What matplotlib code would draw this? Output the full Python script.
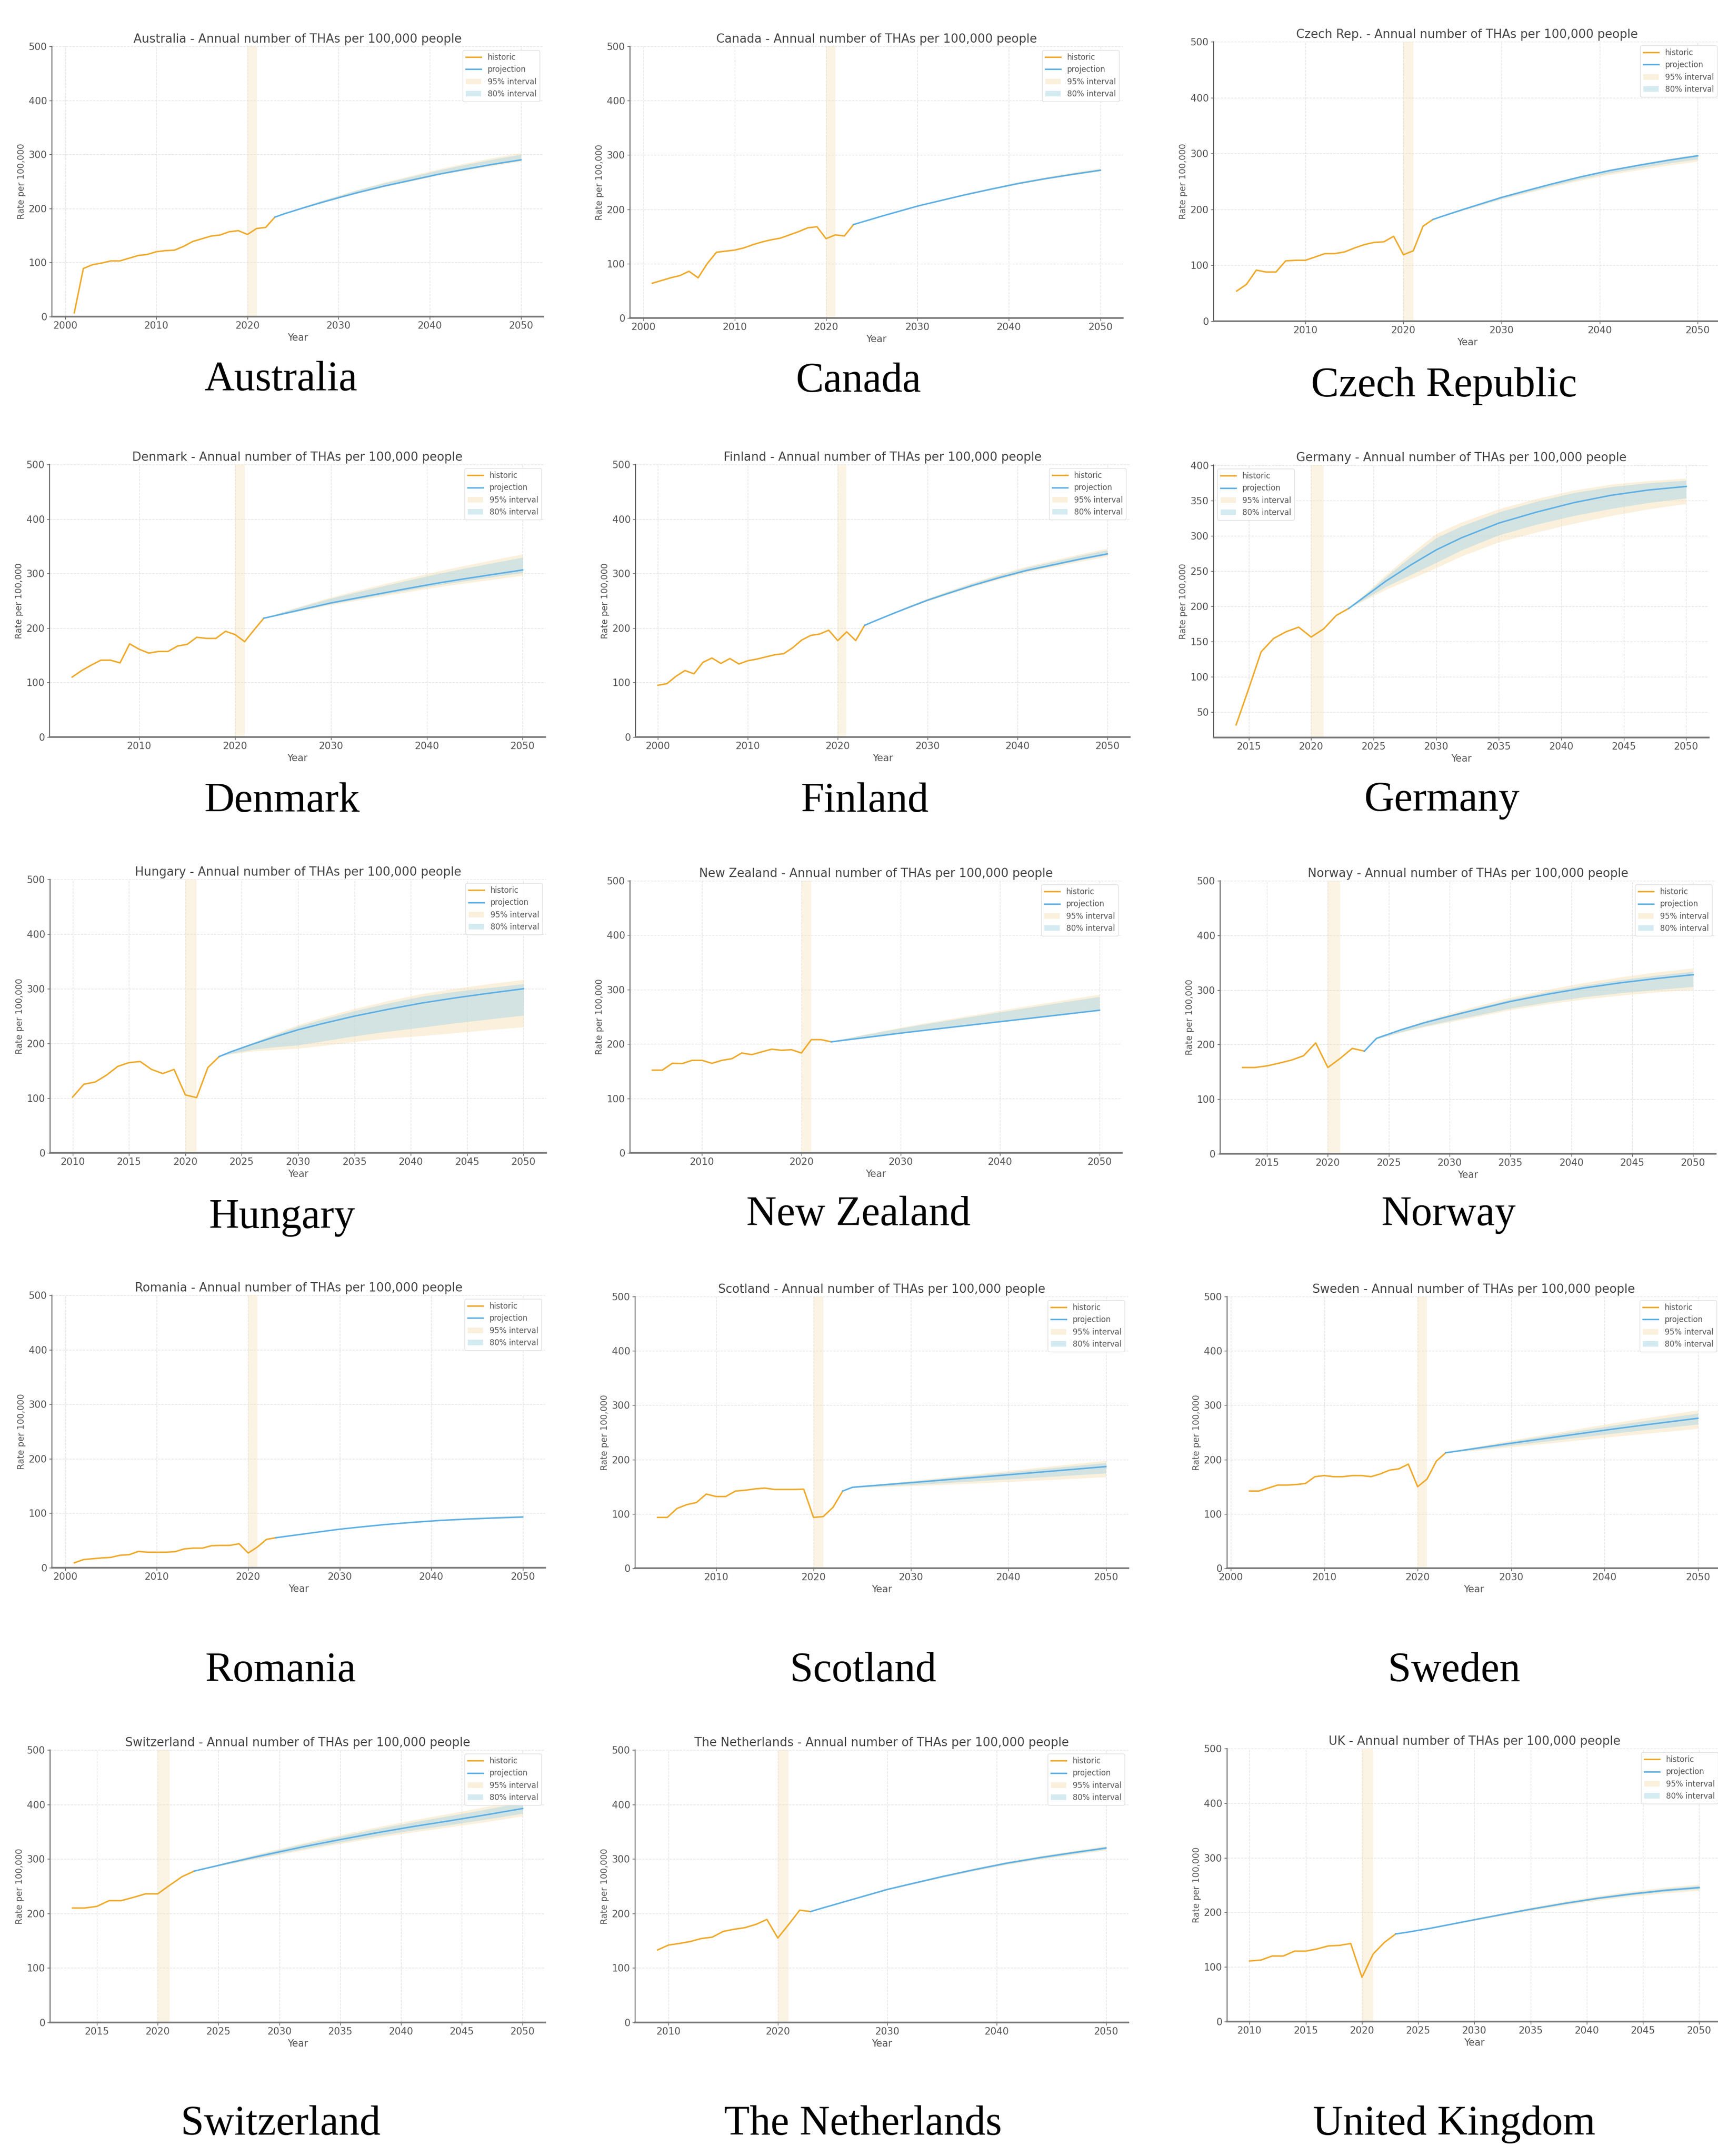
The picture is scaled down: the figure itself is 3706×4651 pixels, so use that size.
import matplotlib
matplotlib.use("Agg")
import matplotlib.pyplot as plt
from matplotlib.ticker import MultipleLocator

W, H = 3706, 4651

countries = ["Australia", "Canada", "Czech Republic", "Denmark", "Finland", "Germany",
             "Hungary", "New Zealand", "Norway", "Romania", "Scotland", "Sweden",
             "Switzerland", "The Netherlands", "United Kingdom"]
title_names = ["Australia", "Canada", "Czech Rep.", "Denmark", "Finland", "Germany",
               "Hungary", "New Zealand", "Norway", "Romania", "Scotland", "Sweden",
               "Switzerland", "The Netherlands", "UK"]

# first year of the historic series
hist_start = [2001, 2001, 2003, 2003, 2000, 2014, 2010, 2005, 2013, 2001, 2004, 2002, 2013, 2009, 2010]

hist_rates = [
    [7, 89, 96, 99, 103, 103, 108, 113, 115, 120, 122, 123, 130, 139, 144, 149, 151, 157, 159, 152, 163, 165, 184],
    [64, 69, 74, 78, 86, 74, 100, 121, 123, 125, 129, 135, 140, 144, 147, 153, 159, 166, 168, 146, 153, 151, 172],
    [54, 66, 91.5, 88, 88, 108, 109, 109, 115, 121, 121, 124, 131, 137, 141, 142, 152, 119, 126, 170, 182],
    [110, 122, 132, 141, 141, 136, 171, 161, 154, 157, 157, 167, 170, 183, 181, 181, 194, 188, 175, 197, 218],
    [95, 98, 111.5, 122, 116, 137, 145, 135, 144, 134, 140, 143, 147, 151, 153, 164, 178, 186.5, 189, 196, 177, 193, 177, 205],
    [32, 83, 135.5, 154.5, 164, 170.5, 156.5, 168, 187, 197],
    [102, 125.5, 129.5, 142, 158, 165, 167, 152.5, 145, 152.5, 106, 101, 156, 176],
    [152, 152, 164.5, 164, 170, 170, 164.5, 170, 173, 183.5, 180.5, 185.5, 190.5, 188.5, 189.5, 183.5, 208, 208, 204],
    [158, 158, 161, 166, 171.5, 179.5, 203, 158, 174.5, 193, 188],
    [9, 15, 16.5, 18, 19, 23, 24, 30, 28.5, 28.5, 28.5, 29.5, 34.5, 36, 36, 40.5, 41, 41, 44, 27, 38, 52, 55],
    [93.5, 93.5, 110, 117, 121, 136.5, 132, 132, 142, 143.5, 146, 147.5, 145, 145, 145, 145.5, 93.5, 95, 112, 142],
    [142, 142, 147.5, 153, 153, 154, 156, 168.5, 170.5, 168.5, 168.5, 170.5, 170.5, 168.5, 173.5, 180.5, 183, 191.5, 150, 164, 197, 212.5],
    [210, 210, 213, 223.5, 223.5, 229.5, 236, 236, 252, 267.5, 277.7],
    [133, 142, 145, 148.5, 154, 156.5, 167, 171, 174, 180, 189, 155, 180, 206, 203.5],
    [111, 112.5, 120, 120, 129, 129, 133, 138.5, 139.5, 143, 81, 124, 145, 160.5],
]

proj_years = [2023, 2024, 2026, 2028, 2030, 2032, 2035, 2038, 2041, 2044, 2047, 2050]

proj_mean = [
    [184, 190, 200.5, 210.5, 220, 229, 241.5, 252.5, 263.5, 273, 282, 290],
    [172, 177, 187, 196.5, 206, 214, 226, 237, 247.5, 256.5, 264.5, 272],
    [182, 188, 199.5, 210.5, 221.5, 231, 245, 258, 269.5, 279, 288, 296],
    [218, 222, 230, 238, 246, 252.7, 262.7, 272.5, 282, 290.5, 298.5, 306.5],
    [205, 212, 225.5, 238.5, 251, 262, 278, 292.5, 305.5, 316, 326.5, 336],
    [197, 210, 236, 259, 280, 297, 318, 333.5, 347, 357.5, 365, 370],
    [176, 184.5, 199, 212.5, 225, 235.5, 250, 262.5, 274, 283.5, 292, 300],
    [204, 206.3, 210.8, 215.4, 220, 224.3, 230.6, 236.9, 243.1, 249.4, 255.7, 262],
    [188, 211.5, 227, 240.5, 252, 263, 279, 292, 303.5, 313, 321, 328],
    [55, 57.3, 61.8, 66.3, 70.7, 74.3, 79.3, 83.3, 86.8, 89.3, 91.3, 93],
    [142, 149, 151.9, 154.7, 157.5, 160.4, 164.8, 169.1, 173.5, 178, 182.5, 187],
    [212.5, 215, 220, 225, 230, 234.8, 242, 249.2, 256.3, 263, 269.5, 276],
    [277.7, 283, 293.5, 303.5, 313, 322.5, 335.5, 348, 359.5, 370, 381, 392.5],
    [203.5, 209.5, 221, 232.5, 244, 253.5, 267.5, 280.5, 292.5, 302.5, 311.5, 320],
    [160.5, 163.5, 170.5, 178.5, 186.5, 194.3, 205.7, 216.3, 225.8, 233.7, 240.3, 245.3],
]

proj_hi95 = [
    [184, 191, 203, 214, 224.5, 234.5, 248.5, 261, 273, 284, 294, 303],
    [172, 177.3, 187.8, 197.6, 207.4, 215.8, 228.2, 239.6, 250.5, 259.8, 268.2, 276],
    [182, 188.2, 200.1, 211.3, 222.6, 232.3, 246.6, 259.9, 271.7, 281.5, 290.8, 299],
    [218, 224.3, 235.5, 246.1, 256.4, 265.5, 278.4, 291.1, 303.5, 314.6, 325.2, 335.5],
    [205, 212.8, 227.4, 241.3, 254.6, 266.4, 283.4, 298.9, 312.9, 324.3, 335.7, 346],
    [197, 213, 245, 275, 303, 319, 338, 352.5, 364.5, 373, 378, 381.5],
    [176, 185.5, 202, 218.5, 234, 246.5, 263.5, 278, 291, 300.5, 309, 316.5],
    [204, 208.6, 216.3, 223.5, 230.4, 237.1, 246.3, 255.5, 264.6, 273.5, 282.4, 291],
    [188, 212, 229, 244, 257, 269, 286.5, 300.5, 313, 323.5, 332.5, 340],
    [55, 57.5, 62.4, 67.1, 71.8, 75.6, 80.9, 85.2, 89, 91.8, 94.1, 96],
    [142, 149.5, 153.6, 157.3, 161, 164.8, 170.4, 175.8, 181.3, 186.9, 192.5, 198],
    [212.5, 216.2, 222.9, 229.2, 235.4, 241.4, 250.1, 258.8, 267.4, 275.5, 283.3, 291],
    [277.7, 284.3, 296.5, 308, 318.8, 329.5, 344.1, 358.2, 371.3, 383.3, 395.7, 408.5],
    [203.5, 209.8, 221.8, 233.6, 245.4, 255.3, 269.7, 283.1, 295.5, 305.8, 315.2, 324],
    [160.5, 164, 171.6, 180.2, 188.7, 196.9, 209, 220.1, 230.2, 238.7, 245.8, 251.3],
]

proj_hi80 = [
    [184, 190.8, 202.5, 213.5, 223.5, 233.5, 247, 259, 271, 281.5, 291, 300],
    [172, 177.2, 187.4, 197.1, 206.7, 214.9, 227.1, 238.3, 249, 258.2, 266.3, 274],
    [182, 188.2, 199.9, 211.1, 222.2, 231.9, 246.1, 259.3, 271, 280.7, 289.8, 298],
    [218, 223.8, 234.4, 244.4, 254.3, 262.8, 275.1, 287.2, 299, 309.6, 319.7, 329.5],
    [205, 212.6, 226.8, 240.5, 253.5, 265.1, 281.8, 297, 310.7, 321.8, 332.9, 343],
    [197, 212, 242, 270.5, 297, 313.5, 333.5, 348.5, 361, 369.5, 375, 378.5],
    [176, 185, 201, 216.5, 231, 243, 259.5, 273.5, 286, 295, 302, 309],
    [204, 208.3, 215.6, 222.4, 229, 235.3, 244.1, 252.9, 261.6, 270.2, 278.7, 287],
    [188, 211.8, 228, 242.2, 254.3, 266, 282.7, 296.3, 308.3, 318.3, 326.7, 334],
    [55, 57.5, 62.2, 66.9, 71.4, 75.2, 80.4, 84.6, 88.3, 91, 93.1, 95],
    [142, 149.4, 153, 156.4, 159.7, 163.2, 168.4, 173.4, 178.5, 183.7, 188.9, 194],
    [212.5, 215.7, 221.7, 227.5, 233.2, 238.8, 246.9, 255, 263, 270.5, 277.8, 285],
    [277.7, 283.9, 295.6, 306.6, 317, 327.3, 341.4, 355, 367.6, 379.1, 391.1, 403.5],
    [203.5, 209.7, 221.5, 233.2, 244.9, 254.6, 268.9, 282.1, 294.4, 304.6, 313.8, 322.5],
    [160.5, 163.8, 171.2, 179.5, 187.8, 195.8, 207.6, 218.5, 228.4, 236.6, 243.5, 248.8],
]

proj_lo80 = [
    [184, 190, 200.5, 210, 219.5, 228.5, 241, 252, 263, 272, 281, 289],
    [172, 176.9, 186.8, 196.2, 205.6, 213.6, 225.5, 236.4, 246.8, 255.7, 263.6, 271],
    [182, 187.5, 198.4, 208.8, 219.3, 228.4, 241.8, 254.2, 265.1, 274, 282.5, 290],
    [218, 221.6, 229, 236.6, 244.2, 250.5, 260, 269.3, 278.3, 286.3, 293.9, 301.5],
    [205, 211.8, 225.1, 237.9, 250.3, 261.1, 276.9, 291.2, 304, 314.3, 324.7, 334],
    [197, 207.5, 228, 245, 262, 279.5, 301, 316, 328.5, 338.5, 347, 353.5],
    [176, 181.5, 189, 193.5, 197, 203.5, 213.5, 222, 229.5, 237.5, 244.5, 251.5],
    [204, 206.3, 210.8, 215.4, 220, 224.3, 230.6, 236.9, 243.1, 249.4, 255.7, 262],
    [188, 210.5, 223, 234, 243.5, 252.5, 266.5, 277.5, 287, 294.5, 300.5, 306],
    [55, 57.3, 61.7, 66.2, 70.5, 74.1, 79, 83, 86.4, 88.9, 90.8, 92.5],
    [142, 148.4, 150.1, 151.8, 153.7, 155.6, 158.7, 161.8, 165, 168.3, 171.6, 175],
    [212.5, 214.1, 217.9, 221.9, 226, 230, 236.1, 242.2, 248.2, 253.9, 259.4, 265],
    [277.7, 282.3, 291.8, 301, 309.8, 318.5, 330.6, 342.2, 352.8, 362.5, 372.7, 383.5],
    [203.5, 209.3, 220.5, 231.8, 243.1, 252.4, 266.1, 278.9, 290.6, 300.4, 309.2, 317.5],
    [160.5, 163.3, 170, 177.8, 185.6, 193.2, 204.4, 214.7, 224, 231.6, 238, 242.8],
]

proj_lo95 = [
    [184, 189.8, 200, 209.5, 219, 227.5, 240, 250.5, 261.5, 270.5, 279, 287],
    [172, 176.8, 186.6, 195.9, 205.3, 213.1, 224.9, 235.7, 246, 254.8, 262.7, 270],
    [182, 187.2, 197.6, 207.7, 217.9, 226.6, 239.6, 251.6, 262.1, 270.7, 278.8, 286],
    [218, 221.2, 228.1, 235.2, 242.4, 248.3, 257.3, 266.1, 274.6, 282.2, 289.3, 296.5],
    [205, 211.6, 224.6, 237.1, 249.2, 259.8, 275.3, 289.3, 301.8, 311.9, 321.9, 331],
    [197, 206, 224, 239, 254.5, 271, 291, 305, 317.5, 328.5, 338, 345.5],
    [176, 180.5, 186, 188.5, 191, 195.5, 203, 209.5, 214, 219.5, 225, 230],
    [204, 206.2, 210.6, 215.1, 219.6, 223.9, 230.1, 236.3, 242.4, 248.6, 254.8, 261],
    [188, 210, 222, 232.5, 241, 250, 263.5, 274, 283, 290, 296, 301],
    [55, 57.2, 61.6, 66, 70.3, 73.9, 78.8, 82.7, 86.1, 88.5, 90.4, 92],
    [142, 148, 149, 150.1, 151.4, 152.8, 155.1, 157.5, 160, 162.6, 165.2, 168],
    [212.5, 213.5, 216.4, 219.7, 223.2, 226.4, 231.7, 237, 242.2, 247.2, 252, 257],
    [277.7, 281.9, 290.8, 299.6, 308, 316.3, 327.9, 339, 349.1, 358.4, 368.1, 378.5],
    [203.5, 209.2, 220.2, 231.4, 242.6, 251.7, 265.3, 277.9, 289.5, 299.2, 307.8, 316],
    [160.5, 163.1, 169.5, 177, 184.5, 191.9, 202.7, 212.8, 221.7, 229.1, 235.2, 239.8],
]

# axes boxes in pixels: left, right, top, bottom
boxes = [
    (112, 1172, 100, 683), (1359, 2422, 100, 686), (2618, 3712, 90, 693),
    (107, 1176, 1002, 1590), (1371, 2437, 1002, 1590), (2618, 3686, 1003, 1591),
    (108, 1178, 1897, 2487), (1359, 2420, 1900, 2487), (2632, 3701, 1900, 2489),
    (112, 1176, 2794, 3382), (1370, 2434, 2797, 3383), (2647, 3711, 2797, 3383),
    (108, 1176, 3775, 4363), (1370, 2434, 3775, 4363), (2647, 3714, 3772, 4361),
]
# caption centre x and baseline y, pixels
caption_pos = [
    (605, 842), (1852, 845), (3115, 855),
    (608, 1751), (1865, 1751), (3110, 1749),
    (608, 2649), (1852, 2643), (3125, 2643),
    (605, 3627), (1862, 3627), (3137, 3627),
    (605, 4605), (1862, 4605), (3137, 4605),
]
tick_steps = [10, 10, 10, 10, 10, 5, 5, 10, 5, 10, 10, 10, 5, 10, 5]

HIST = '#efaa2c'
PROJ = '#5eb0e5'
GREY = '#555555'

fig = plt.figure(figsize=(W / 100, H / 100), dpi=100)

for i, name in enumerate(countries):
    l, r, t, b = boxes[i]
    ax = fig.add_axes([l / W, 1 - b / H, (r - l) / W, (b - t) / H])
    yrs = list(range(hist_start[i], hist_start[i] + len(hist_rates[i])))

    ax.axvspan(2020, 2021, color='wheat', alpha=0.35, lw=0, zorder=1)
    ax.plot(yrs, hist_rates[i], color=HIST, lw=2.3, label='historic', zorder=4)
    ax.plot(proj_years, proj_mean[i], color=PROJ, lw=2.3, label='projection', zorder=5)
    ax.fill_between(proj_years, proj_lo95[i], proj_hi95[i], color='wheat', alpha=0.45,
                    lw=0, label='95% interval', zorder=2)
    ax.fill_between(proj_years, proj_lo80[i], proj_hi80[i], color='lightblue', alpha=0.5,
                    lw=0, label='80% interval', zorder=3)

    if name == "Germany":
        ax.set_ylim(14, 400.5)
        ax.yaxis.set_major_locator(MultipleLocator(50))
        loc = 'upper left'
    else:
        ax.set_ylim(0, 500)
        ax.yaxis.set_major_locator(MultipleLocator(100))
        loc = 'upper right'
    ax.xaxis.set_major_locator(MultipleLocator(tick_steps[i]))

    ax.grid(True, ls='--', lw=1.0, color='#e3e3e3')
    ax.set_axisbelow(True)
    for s in ['top', 'right']:
        ax.spines[s].set_visible(False)
    ax.spines['left'].set_color('#666666')
    ax.spines['left'].set_linewidth(1.5)
    ax.spines['bottom'].set_color('#777777')
    ax.spines['bottom'].set_linewidth(2.6)
    ax.tick_params(labelsize=15, colors=GREY, length=4, width=1)

    ax.set_title(title_names[i] + " - Annual number of THAs per 100,000 people",
                 fontsize=18.5, color='#444444')
    ax.set_xlabel('Year', fontsize=15, color=GREY)
    ax.set_ylabel('Rate per 100,000', fontsize=13.5, color=GREY)

    leg = ax.legend(loc=loc, fontsize=12, frameon=True, edgecolor='#dcdcdc',
                    framealpha=0.9)
    for txt in leg.get_texts():
        txt.set_color(GREY)

    cx, cy = caption_pos[i]
    fig.text(cx / W, 1 - cy / H, name, ha='center', va='baseline',
             fontsize=65, family='Liberation Serif', color='black')

fig.savefig('out.png', dpi=100)
